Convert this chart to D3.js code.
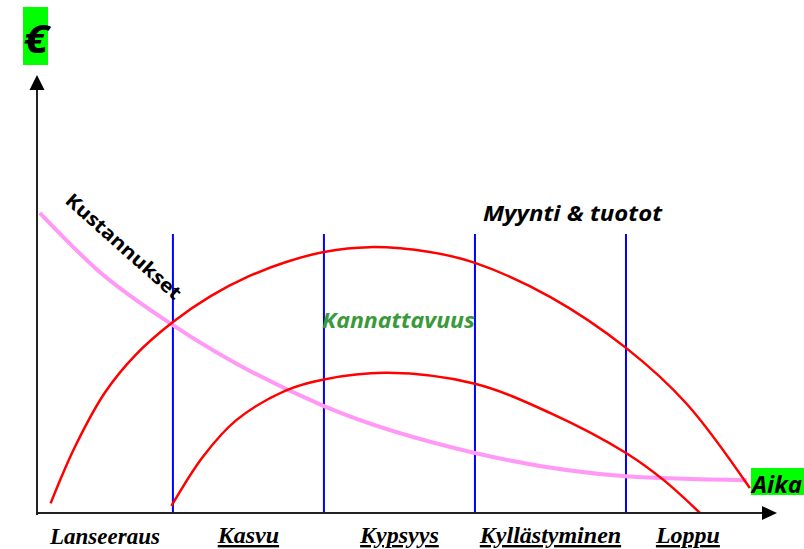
<!DOCTYPE html>
<html>
<head>
<meta charset="utf-8">
<script src="https://cdn.jsdelivr.net/npm/d3@7"></script>
<style>
  body { margin: 0; background: #fff; }
  svg { display: block; }
</style>
</head>
<body>
<div id="root"></div>
<script>
// ###### data ######
// time: 1..4 are the phase borders, values on a 0-100 scale
const stages = ['Lanseeraus', 'Kasvu', 'Kypsyys', 'Kyllästyminen', 'Loppu'];
const stageBorders = [0.1, 1, 2, 3, 4, 4.82];

const salesT = [0.19, 0.35, 0.55, 0.75, 1.0, 1.25, 1.5, 1.75, 2.0, 2.3, 2.7, 3.0, 3.5, 4.0, 4.4, 4.82];
const salesV = [2.2, 15.0, 27.5, 36.0, 43.6, 49.5, 54.0, 57.3, 59.6, 60.7, 59.6, 57.1, 49.3, 37.7, 25.0, 5.7];

const profitT = [0.99, 1.2, 1.42, 1.75, 2.0, 2.42, 3.0, 3.5, 4.0, 4.25, 4.49];
const profitV = [1.6, 12.9, 21.2, 28.0, 30.5, 32.0, 29.5, 22.8, 13.7, 7.5, 0];

const costT = [0.12, 0.5, 1.0, 2.0, 3.0, 4.0, 4.8];
const costV = [68.5, 55.5, 42.9, 24.4, 13.7, 8.4, 7.5];

const phaseLineTop = 63.7;

// ###### chart ######
const width = 804, height = 549;
const svg = d3.select('#root').append('svg')
  .attr('width', width)
  .attr('height', height)
  .attr('viewBox', [0, 0, width, height]);

const x = d3.scaleLinear().domain([0.1, 5]).range([37, 777]);
const y = d3.scaleLinear().domain([0, 100]).range([513, 75]);

const zip = (ts, vs) => ts.map((t, i) => ({ t, v: vs[i] }));
const smooth = d3.line()
  .x((d) => x(d.t))
  .y((d) => y(d.v))
  .curve(d3.curveCatmullRom.alpha(0.5));
const falling = d3.line()
  .x((d) => x(d.t))
  .y((d) => y(d.v))
  .curve(d3.curveMonotoneX);

// phase separators
svg.append('g')
  .selectAll('line')
  .data(stageBorders.slice(1, 5))
  .join('line')
  .attr('x1', (d) => x(d)).attr('x2', (d) => x(d))
  .attr('y1', y(phaseLineTop)).attr('y2', y(0))
  .attr('stroke', '#0000ff')
  .attr('stroke-width', 2);

// curves
svg.append('path')
  .datum(zip(costT, costV))
  .attr('d', falling)
  .attr('fill', 'none')
  .attr('stroke', '#ff99f5')
  .attr('stroke-width', 4);

svg.append('path')
  .datum(zip(salesT, salesV))
  .attr('d', smooth)
  .attr('fill', 'none')
  .attr('stroke', '#ff0000')
  .attr('stroke-width', 2.5);

svg.append('path')
  .datum(zip(profitT, profitV))
  .attr('d', smooth)
  .attr('fill', 'none')
  .attr('stroke', '#ff0000')
  .attr('stroke-width', 2.5);

// axes with arrow heads
const axes = svg.append('g').attr('fill', '#000').attr('stroke', '#222');
axes.append('line')
  .attr('x1', x(0.1)).attr('x2', x(0.1))
  .attr('y1', y(0) + 2).attr('y2', y(100) + 12)
  .attr('stroke-width', 2);
axes.append('line')
  .attr('x1', x(0.1) - 1).attr('x2', x(5) - 14)
  .attr('y1', y(0)).attr('y2', y(0))
  .attr('stroke-width', 2);
axes.append('path')
  .attr('stroke', 'none')
  .attr('d', `M${x(0.1)},${y(100)} L${x(0.1) - 7.5},${y(100) + 15} L${x(0.1) + 7.5},${y(100) + 15} Z`);
axes.append('path')
  .attr('stroke', 'none')
  .attr('d', `M${x(5)},${y(0)} L${x(5) - 15},${y(0) - 7} L${x(5) - 15},${y(0) + 7} Z`);

// axis captions in green boxes
svg.append('rect')
  .attr('x', 23).attr('y', 7).attr('width', 25).attr('height', 58)
  .attr('fill', '#00ff00');
svg.append('text')
  .attr('x', 36).attr('y', 53)
  .attr('text-anchor', 'middle')
  .attr('font-family', '"Open Sans", sans-serif')
  .attr('font-weight', 'bold')
  .attr('font-style', 'italic')
  .attr('font-size', 40)
  .attr('textLength', 25)
  .attr('lengthAdjust', 'spacingAndGlyphs')
  .text('€');

svg.append('rect')
  .attr('x', 751).attr('y', 468).attr('width', 53).attr('height', 27)
  .attr('fill', '#00ff00');
svg.append('text')
  .attr('x', 752).attr('y', 493)
  .attr('font-family', '"Open Sans", sans-serif')
  .attr('font-weight', 'bold')
  .attr('font-style', 'italic')
  .attr('font-size', 24)
  .text('Aika');

// curve captions
svg.append('text')
  .attr('x', 483).attr('y', 221)
  .attr('font-family', '"Open Sans", sans-serif')
  .attr('font-weight', 'bold')
  .attr('font-style', 'italic')
  .attr('font-size', 22)
  .attr('textLength', 179)
  .attr('lengthAdjust', 'spacingAndGlyphs')
  .text('Myynti & tuotot');

svg.append('text')
  .attr('x', 322).attr('y', 328)
  .attr('fill', '#3a9a3a')
  .attr('font-family', '"Open Sans", sans-serif')
  .attr('font-weight', 'bold')
  .attr('font-style', 'italic')
  .attr('font-size', 22)
  .attr('textLength', 153)
  .attr('lengthAdjust', 'spacingAndGlyphs')
  .text('Kannattavuus');

svg.append('text')
  .attr('transform', 'translate(64,202) rotate(41.8)')
  .attr('font-family', '"Open Sans", sans-serif')
  .attr('font-weight', 'bold')
  .attr('font-size', 19)
  .attr('textLength', 148)
  .attr('lengthAdjust', 'spacingAndGlyphs')
  .text('Kustannukset');

// stage labels under the time axis
svg.append('g')
  .selectAll('text')
  .data(stages)
  .join('text')
  .attr('x', (d, i) => x((stageBorders[i] + stageBorders[i + 1]) / 2))
  .attr('y', (d, i) => i === 0 ? 544 : 543)
  .attr('text-anchor', 'middle')
  .attr('font-family', '"Liberation Serif", "Times New Roman", serif')
  .attr('font-weight', 'bold')
  .attr('font-style', 'italic')
  .attr('font-size', (d, i) => i === 0 ? 23 : 24)
  .style('text-decoration', (d, i) => i === 0 ? 'none' : 'underline')
  .text((d) => d);
</script>
</body>
</html>
